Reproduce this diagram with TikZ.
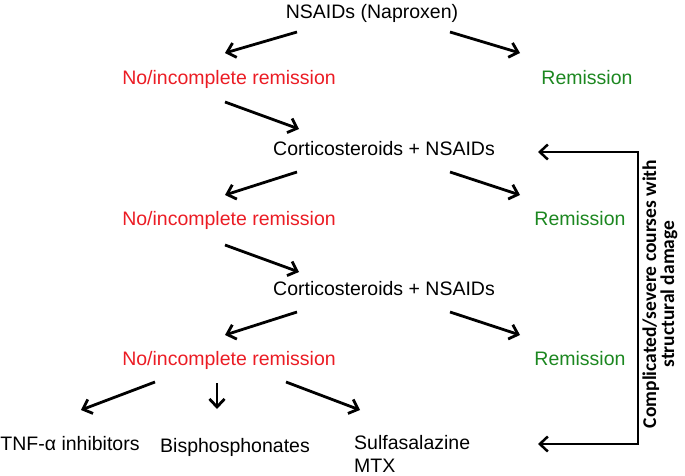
\documentclass[tikz,border=0pt]{standalone}
\usepackage{fontspec}
\setmainfont{Liberation Sans}
\newfontfamily\sidefont{Carlito}
\usepackage{xcolor}
\definecolor{NoRed}{RGB}{235,28,36}
\definecolor{RemGreen}{RGB}{28,135,32}
\usetikzlibrary{arrows.meta}
\tikzset{>={Straight Barb[length=8pt,width=15pt]}}
\tikzstyle{none}=[inner sep=0pt]
\tikzstyle{drug}=[inner sep=0pt,anchor=base,font=\fontsize{19.5}{23}\selectfont]
\tikzstyle{fail}=[drug,text=NoRed]
\tikzstyle{remit}=[drug,text=RemGreen]
\tikzstyle{side}=[inner sep=0pt,align=center,rotate=90,font=\sidefont\bfseries\fontsize{19.5}{18}\selectfont]
\tikzstyle{pointer}=[->,draw=black,line width=2.800]
\tikzstyle{loop}=[<->,draw=black,line width=2.500]
\pgfdeclarelayer{edgelayer}
\pgfdeclarelayer{nodelayer}
\pgfsetlayers{edgelayer,nodelayer,main}

\begin{document}
\begin{tikzpicture}[x=1pt,y=-1pt]
	\useasboundingbox (0,0) rectangle (685,476);
	\begin{pgfonlayer}{nodelayer}
		\node [style=drug] (0) at (372, 19) {NSAIDs (Naproxen)};
		\node [style=fail] (1) at (229, 85) {No/incomplete remission};
		\node [style=remit] (2) at (587, 85) {Remission};
		\node [style=drug] (3) at (384, 155) {Corticosteroids + NSAIDs};
		\node [style=fail] (4) at (229, 225) {No/incomplete remission};
		\node [style=remit] (5) at (580, 225) {Remission};
		\node [style=drug] (6) at (384, 295) {Corticosteroids + NSAIDs};
		\node [style=fail] (7) at (229, 365) {No/incomplete remission};
		\node [style=remit] (8) at (580, 365) {Remission};
		\node [style=drug] (9) at (70, 450) {TNF-α inhibitors};
		\node [style=drug] (10) at (235, 452) {Bisphosphonates};
		\node [style=drug, anchor=north west, align=left] (11) at (354, 435) {Sulfasalazine\\MTX};
		\node [style=side] (12) at (660, 294) {Complicated/severe courses with\\structural damage};

		% arrow ends
		\node [style=none] (20) at (297, 32) {};
		\node [style=none] (21) at (225, 53) {};
		\node [style=none] (22) at (450, 32) {};
		\node [style=none] (23) at (520, 53) {};
		\node [style=none] (24) at (225, 102) {};
		\node [style=none] (25) at (299, 129) {};
		\node [style=none] (26) at (297, 172) {};
		\node [style=none] (27) at (225, 195) {};
		\node [style=none] (28) at (450, 172) {};
		\node [style=none] (29) at (520, 195) {};
		\node [style=none] (30) at (225, 245) {};
		\node [style=none] (31) at (299, 272) {};
		\node [style=none] (32) at (297, 312) {};
		\node [style=none] (33) at (225, 335) {};
		\node [style=none] (34) at (450, 312) {};
		\node [style=none] (35) at (520, 335) {};
		\node [style=none] (36) at (155, 382) {};
		\node [style=none] (37) at (81, 410) {};
		\node [style=none] (38) at (217, 383) {};
		\node [style=none] (39) at (217, 409) {};
		\node [style=none] (40) at (286, 382) {};
		\node [style=none] (41) at (360, 410) {};
		\node [style=none] (42) at (538, 152) {};
		\node [style=none] (43) at (638, 152) {};
		\node [style=none] (44) at (638, 444) {};
		\node [style=none] (45) at (538, 444) {};
	\end{pgfonlayer}
	\begin{pgfonlayer}{edgelayer}
		\draw [style=pointer] (20.center) to (21.center);
		\draw [style=pointer] (22.center) to (23.center);
		\draw [style=pointer] (24.center) to (25.center);
		\draw [style=pointer] (26.center) to (27.center);
		\draw [style=pointer] (28.center) to (29.center);
		\draw [style=pointer] (30.center) to (31.center);
		\draw [style=pointer] (32.center) to (33.center);
		\draw [style=pointer] (34.center) to (35.center);
		\draw [style=pointer] (36.center) to (37.center);
		\draw [style=pointer] (38.center) to (39.center);
		\draw [style=pointer] (40.center) to (41.center);

		% back to steroids, or on to the third line
		\draw [style=loop] (42.center) -- (43.center) -- (44.center) -- (45.center);
	\end{pgfonlayer}
\end{tikzpicture}
\end{document}
